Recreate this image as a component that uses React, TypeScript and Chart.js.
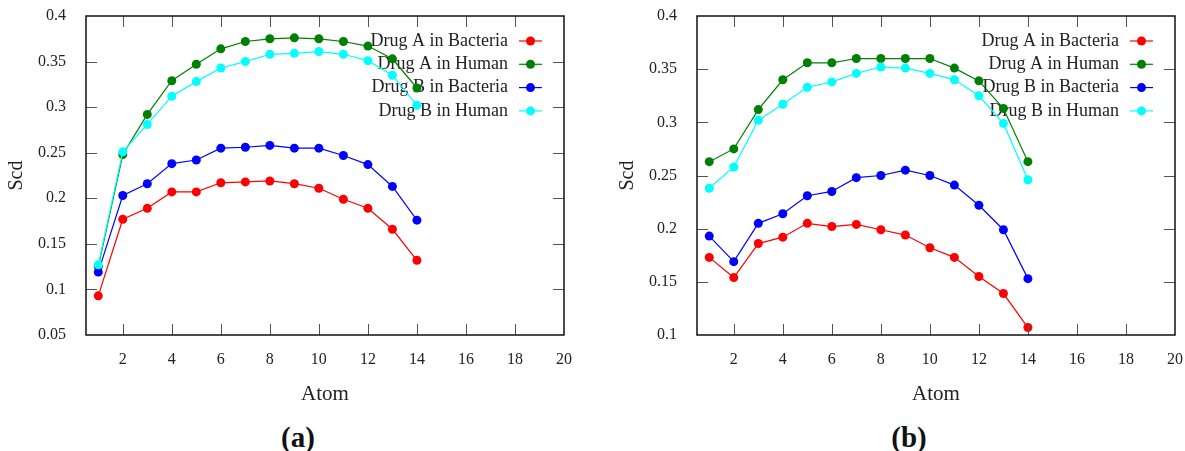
import { useEffect, useRef } from "react";
import { Chart, registerables } from "chart.js";

Chart.register(...registerables);

// Atom index along the chain
const atoms = [1, 2, 3, 4, 5, 6, 7, 8, 9, 10, 11, 12, 13, 14];

const seriesLabels = ["Drug A in Bacteria", "Drug A in Human", "Drug B in Bacteria", "Drug B in Human"];
const seriesColors = ["#ff0000", "#008000", "#0000ff", "#00ffff"];

// Panel (a) order parameters
const aDrugABacteria = [0.093, 0.177, 0.189, 0.207, 0.207, 0.217, 0.218, 0.219, 0.216, 0.211, 0.199, 0.189, 0.166, 0.132];
const aDrugAHuman = [0.125, 0.248, 0.292, 0.329, 0.347, 0.364, 0.372, 0.375, 0.376, 0.375, 0.372, 0.367, 0.353, 0.321];
const aDrugBBacteria = [0.119, 0.203, 0.216, 0.238, 0.242, 0.255, 0.256, 0.258, 0.255, 0.255, 0.247, 0.237, 0.213, 0.176];
const aDrugBHuman = [0.127, 0.251, 0.281, 0.312, 0.328, 0.343, 0.350, 0.358, 0.359, 0.361, 0.358, 0.351, 0.335, 0.302];

// Panel (b) order parameters
const bDrugABacteria = [0.173, 0.154, 0.186, 0.192, 0.205, 0.202, 0.204, 0.199, 0.194, 0.182, 0.173, 0.155, 0.139, 0.107];
const bDrugAHuman = [0.263, 0.275, 0.312, 0.340, 0.356, 0.356, 0.360, 0.360, 0.360, 0.360, 0.351, 0.339, 0.313, 0.263];
const bDrugBBacteria = [0.193, 0.169, 0.205, 0.214, 0.231, 0.235, 0.248, 0.250, 0.255, 0.250, 0.241, 0.222, 0.199, 0.153];
const bDrugBHuman = [0.238, 0.258, 0.302, 0.317, 0.333, 0.338, 0.346, 0.352, 0.351, 0.346, 0.340, 0.325, 0.299, 0.246];

const xTicks = [2, 4, 6, 8, 10, 12, 14, 16, 18, 20];
const yTicksA = [0.05, 0.1, 0.15, 0.2, 0.25, 0.3, 0.35, 0.4];
const yTicksB = [0.1, 0.15, 0.2, 0.25, 0.3, 0.35, 0.4];

const FONT = "'Liberation Serif', 'Times New Roman', serif";

// Box frame with inward, mirrored tick marks on all four sides
const framePlugin = {
  id: "frame",
  afterDatasetsDraw(chart: any) {
    const { ctx, chartArea, scales } = chart;
    const { left, right, top, bottom } = chartArea;
    const len = 11;
    ctx.save();
    ctx.strokeStyle = "#555";
    ctx.lineWidth = 1;
    scales.x.ticks.forEach((t: any) => {
      const px = Math.round(scales.x.getPixelForValue(t.value)) + 0.5;
      if (px <= left + 1 || px >= right - 1) return;
      ctx.beginPath();
      ctx.moveTo(px, bottom);
      ctx.lineTo(px, bottom - len);
      ctx.moveTo(px, top);
      ctx.lineTo(px, top + len);
      ctx.stroke();
    });
    scales.y.ticks.forEach((t: any) => {
      const py = Math.round(scales.y.getPixelForValue(t.value)) + 0.5;
      if (py <= top + 1 || py >= bottom - 1) return;
      ctx.beginPath();
      ctx.moveTo(left, py);
      ctx.lineTo(left + len, py);
      ctx.moveTo(right, py);
      ctx.lineTo(right - len, py);
      ctx.stroke();
    });
    ctx.strokeStyle = "#111";
    ctx.lineWidth = 1.5;
    ctx.strokeRect(left, top, right - left, bottom - top);
    ctx.restore();
  },
};

// Key in the upper right: right-aligned text with a line+point sample after it
const keyPlugin = {
  id: "key",
  beforeDatasetsDraw(chart: any) {
    const { ctx, chartArea } = chart;
    ctx.save();
    ctx.font = `18px ${FONT}`;
    ctx.fillStyle = "#222";
    ctx.textAlign = "right";
    ctx.textBaseline = "middle";
    chart.data.datasets.forEach((ds: any, i: number) => {
      ctx.fillText(ds.label, chartArea.right - 56, chartArea.top + 25 + i * 23.3);
    });
    ctx.restore();
  },
  afterDatasetsDraw(chart: any) {
    const { ctx, chartArea } = chart;
    ctx.save();
    chart.data.datasets.forEach((ds: any, i: number) => {
      const y = chartArea.top + 25 + i * 23.3;
      ctx.strokeStyle = ds.borderColor;
      ctx.lineWidth = 1.2;
      ctx.beginPath();
      ctx.moveTo(chartArea.right - 45, y);
      ctx.lineTo(chartArea.right - 22, y);
      ctx.stroke();
      ctx.fillStyle = ds.backgroundColor;
      ctx.beginPath();
      ctx.arc(chartArea.right - 33.5, y, 4.5, 0, Math.PI * 2);
      ctx.fill();
    });
    ctx.restore();
  },
};

type PanelProps = {
  series: number[][];
  yTicks: number[];
  caption: string;
  left: number;
};

function Panel({ series, yTicks, caption, left }: PanelProps) {
  const ref = useRef<HTMLCanvasElement>(null);

  useEffect(() => {
    if (!ref.current) return;
    const chart = new Chart(ref.current, {
      type: "line",
      data: {
        datasets: series.map((vals, i) => ({
          label: seriesLabels[i],
          data: atoms.map((a, j) => ({ x: a, y: vals[j] })),
          borderColor: seriesColors[i],
          backgroundColor: seriesColors[i],
          borderWidth: 1.2,
          pointRadius: 4.5,
          pointBorderWidth: 0,
          pointBackgroundColor: seriesColors[i],
          tension: 0,
          order: series.length - 1 - i,
        })),
      },
      options: {
        responsive: false,
        animation: false,
        layout: { padding: { top: 16, right: 16, left: 0, bottom: 0 } },
        plugins: { legend: { display: false }, tooltip: { enabled: false } },
        scales: {
          x: {
            type: "linear",
            min: 0.5,
            max: 20,
            grid: { display: false },
            border: { display: false },
            afterBuildTicks: (s: any) => {
              s.ticks = xTicks.map((v) => ({ value: v }));
            },
            afterFit: (s: any) => {
              s.height = 75;
              s.paddingLeft = 0;
              s.paddingRight = 0;
              s.paddingTop = 0;
              s.paddingBottom = 0;
            },
            ticks: {
              padding: 7,
              color: "#222",
              font: { family: FONT, size: 16 },
              callback: (v: any) => String(v),
            },
            title: {
              display: true,
              text: "Atom",
              color: "#222",
              font: { family: FONT, size: 21 },
              padding: { top: 0, bottom: 3 },
            },
          },
          y: {
            type: "linear",
            min: yTicks[0],
            max: yTicks[yTicks.length - 1],
            grid: { display: false },
            border: { display: false },
            afterBuildTicks: (s: any) => {
              s.ticks = yTicks.map((v) => ({ value: v }));
            },
            afterFit: (s: any) => {
              s.width = 86;
              s.paddingLeft = 0;
              s.paddingRight = 0;
              s.paddingTop = 0;
              s.paddingBottom = 0;
            },
            ticks: {
              padding: 12,
              color: "#222",
              font: { family: FONT, size: 16 },
              callback: (v: any) => String(+Number(v).toFixed(2)),
            },
            title: {
              display: true,
              text: "Scd",
              color: "#222",
              font: { family: FONT, size: 20 },
              padding: { top: 5, bottom: 0 },
            },
          },
        },
      },
      plugins: [keyPlugin, framePlugin],
    } as any);
    return () => chart.destroy();
  }, [series, yTicks]);

  return (
    <>
      <canvas
        ref={ref}
        width={580}
        height={410}
        style={{ position: "absolute", left, top: 0, width: 580, height: 410 }}
      />
      <div
        style={{
          position: "absolute",
          left: left + 298 - 50,
          top: 420,
          width: 100,
          textAlign: "center",
          fontFamily: FONT,
          fontWeight: "bold",
          fontSize: 29,
          lineHeight: "34px",
          color: "#111",
        }}
      >
        {caption}
      </div>
    </>
  );
}

const seriesA = [aDrugABacteria, aDrugAHuman, aDrugBBacteria, aDrugBHuman];
const seriesB = [bDrugABacteria, bDrugAHuman, bDrugBBacteria, bDrugBHuman];

export default function App() {
  return (
    <div
      style={{
        position: "absolute",
        left: 0,
        top: 0,
        width: 1185,
        height: 451,
        background: "#fff",
        overflow: "hidden",
      }}
    >
      <Panel series={seriesA} yTicks={yTicksA} caption="(a)" left={0} />
      <Panel series={seriesB} yTicks={yTicksB} caption="(b)" left={611} />
    </div>
  );
}
